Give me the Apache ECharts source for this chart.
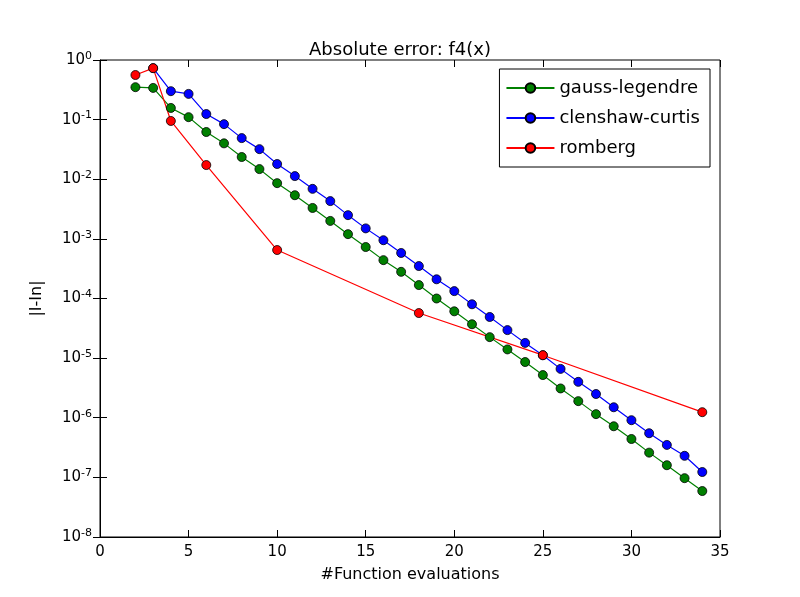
<!DOCTYPE html>
<html><head><meta charset="utf-8">
<script src="https://cdn.jsdelivr.net/npm/echarts@6/dist/echarts.min.js"></script>
<style>html,body{margin:0;padding:0;background:#fff}#c{width:800px;height:597px}</style>
</head><body><div id="c"></div>
<script>
const glX = [2,3,4,5,6,7,8,9,10,11,12,13,14,15,16,17,18,19,20,21,22,23,24,25,26,27,28,29,30,31,32,33,34];
const glY = [0.35,0.34,0.157,0.11,0.062,0.040,0.0236,0.0148,0.0086,0.0054,0.0033,0.0020,0.0012,7.3e-4,4.4e-4,2.8e-4,1.68e-4,1.0e-4,6.1e-5,3.7e-5,2.25e-5,1.4e-5,8.6e-6,5.2e-6,3.1e-6,1.9e-6,1.15e-6,7.2e-7,4.4e-7,2.6e-7,1.6e-7,9.7e-8,5.9e-8];
const ccX = [3,4,5,6,7,8,9,10,11,12,13,14,15,16,17,18,19,20,21,22,23,24,25,26,27,28,29,30,31,32,33,34];
const ccY = [0.73,0.30,0.27,0.124,0.084,0.049,0.032,0.018,0.0113,0.0069,0.0043,0.0025,0.0015,9.5e-4,5.8e-4,3.5e-4,2.1e-4,1.33e-4,8.0e-5,4.9e-5,2.95e-5,1.8e-5,1.12e-5,6.6e-6,4.0e-6,2.5e-6,1.5e-6,9.1e-7,5.5e-7,3.5e-7,2.3e-7,1.23e-7];
const rbX = [2,3,4,6,10,18,25,34];
const rbY = [0.56,0.73,0.095,0.0173,6.5e-4,5.7e-5,1.12e-5,1.24e-6];
const zip = (a,b)=>a.map((v,i)=>[v,b[i]]);
const chart = echarts.init(document.getElementById('c'));
const ff = 'DejaVu Sans';
function mk(name, X, Y, color){
  return {name, type:'line', data:zip(X,Y), symbol:'circle', symbolSize:9,
    lineStyle:{color, width:1.2}, itemStyle:{color, borderColor:'#000', borderWidth:0.8}, animation:false};
}
chart.setOption({
  animation:false,
  textStyle:{fontFamily:ff},
  title:{text:'Absolute error: f4(x)', left:'center', top:36, textStyle:{fontFamily:ff, fontSize:18, fontWeight:'normal', color:'#000'}},
  grid:{left:100, right:80, top:60, bottom:60, show:true, borderColor:'#000', borderWidth:1},
  legend:{orient:'vertical', right:90, top:69, padding:[10,10,10,6], itemGap:12, itemWidth:48, itemHeight:12,
    borderColor:'#000', borderWidth:1, borderRadius:0, backgroundColor:'#fff',
    textStyle:{fontFamily:ff, fontSize:18, color:'#000'}},
  xAxis:[{type:'value', min:0, max:35, interval:5, name:'#Function evaluations', nameLocation:'middle', nameGap:30,
    nameTextStyle:{fontFamily:ff, fontSize:16, color:'#000'},
    axisLine:{lineStyle:{color:'#000'}}, axisTick:{inside:true, length:7, lineStyle:{color:'#000'}},
    axisLabel:{fontFamily:ff, fontSize:15, color:'#000'}, splitLine:{show:false}},
    {type:'value', position:'top', min:0, max:35, interval:5, axisLine:{show:false}, axisTick:{inside:true, length:7, lineStyle:{color:'#000'}}, axisLabel:{show:false}, splitLine:{show:false}}],
  yAxis:[{type:'log', logBase:10, min:1e-8, max:1, name:'|I-In|', nameLocation:'middle', nameGap:55,
    nameTextStyle:{fontFamily:ff, fontSize:16, color:'#000'},
    axisLine:{lineStyle:{color:'#000'}}, axisTick:{inside:true, length:7, lineStyle:{color:'#000'}},
    axisLabel:{color:'#000', formatter:v=>'{b|10}{s|'+Math.round(Math.log10(v))+'}',
      rich:{b:{fontFamily:ff, fontSize:15, color:'#000'}, s:{fontFamily:ff, fontSize:11, color:'#000', verticalAlign:'top', padding:[0,0,8,0]}}},
    splitLine:{show:false}},
    {type:'log', logBase:10, min:1e-8, max:1, position:'right', axisLine:{show:false}, axisTick:{inside:true, length:7, lineStyle:{color:'#000'}}, axisLabel:{show:false}, splitLine:{show:false}}],
  series:[mk('gauss-legendre', glX, glY, '#008000'), mk('clenshaw-curtis', ccX, ccY, '#0000ff'), mk('romberg', rbX, rbY, '#ff0000')]
});
</script></body></html>
